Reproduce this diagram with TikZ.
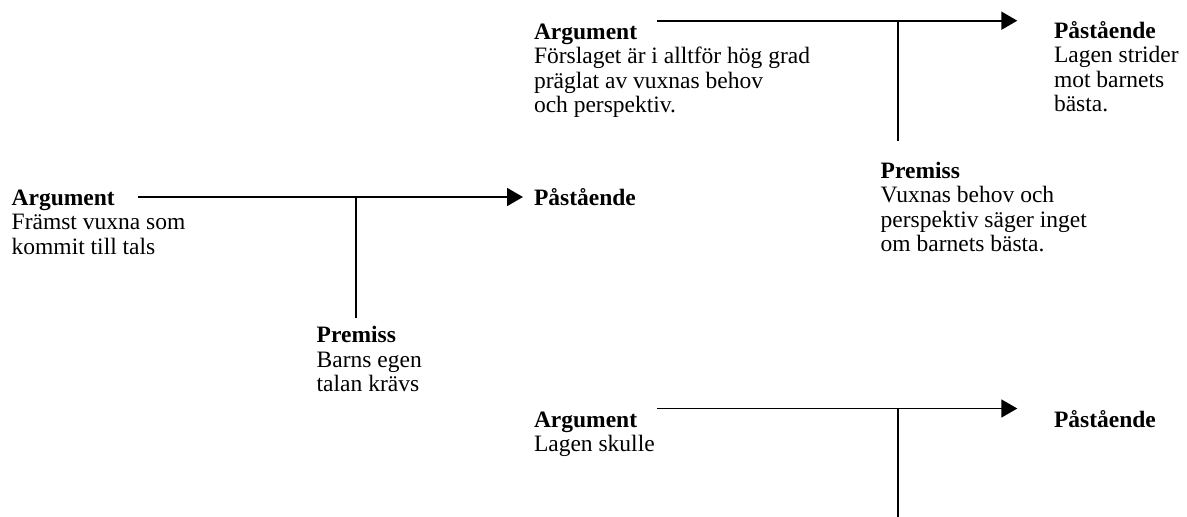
\documentclass[tikz,border=0pt]{standalone}
\usepackage{fontspec}
\setmainfont{Liberation Serif}
\usetikzlibrary{arrows.meta}
\tikzset{
  txt/.style={anchor=base west,inner sep=0pt,outer sep=0pt,font=\fontsize{23.5}{24.5}\selectfont},
  conn/.style={line width=1.8pt,draw=black},
  arr/.style={conn,-{Triangle[length=16pt,width=18pt]}}
}
\newcommand{\blk}[1]{\begin{tabular}[t]{@{}l@{}}#1\end{tabular}}
\begin{document}
\begin{tikzpicture}[x=1pt,y=-1pt]
\useasboundingbox[fill=white] (0,0) rectangle (1187,517);
% Diagram 1
\node[txt] (arg1) at (11.7,205) {\blk{\textbf{Argument}\\Främst vuxna som\\kommit till tals}};
\node[txt] (pas1) at (534,205) {\textbf{Påstående}};
\node[txt] (pre1) at (316.7,342.7) {\blk{\textbf{Premiss}\\Barns egen\\talan krävs}};
\coordinate (s1) at (138,197);
\coordinate (j1) at (355.7,197);
\coordinate (t1) at (523,197);
\coordinate (b1) at (355.7,318);
\draw[arr] (s1) -- (t1);
\draw[conn] (j1) -- (b1);
% Diagram 2
\node[txt] (arg2) at (534,39.3) {\blk{\textbf{Argument}\\Förslaget är i alltför hög grad\\präglat av vuxnas behov\\och perspektiv.}};
\node[txt] (pas2) at (1054,38.3) {\blk{\textbf{Påstående}\\Lagen strider\\mot barnets\\bästa.}};
\node[txt] (pre2) at (880.7,178.3) {\blk{\textbf{Premiss}\\Vuxnas behov och\\perspektiv säger inget\\om barnets bästa.}};
\coordinate (s2) at (657.3,20.7);
\coordinate (j2) at (898,20.7);
\coordinate (t2) at (1017.3,20.7);
\coordinate (b2) at (898,140.7);
\draw[arr] (s2) -- (t2);
\draw[conn] (j2) -- (b2);
% Diagram 3
\node[txt] (arg3) at (534,427) {\blk{\textbf{Argument}\\Lagen skulle}};
\node[txt] (pas3) at (1054,427) {\textbf{Påstående}};
\coordinate (s3) at (657.3,408.5);
\coordinate (j3) at (898,408.5);
\coordinate (t3) at (1017.3,408.5);
\coordinate (b3) at (898,517);
\draw[arr] (s3) -- (t3);
\draw[conn] (j3) -- (b3);
\end{tikzpicture}
\end{document}
